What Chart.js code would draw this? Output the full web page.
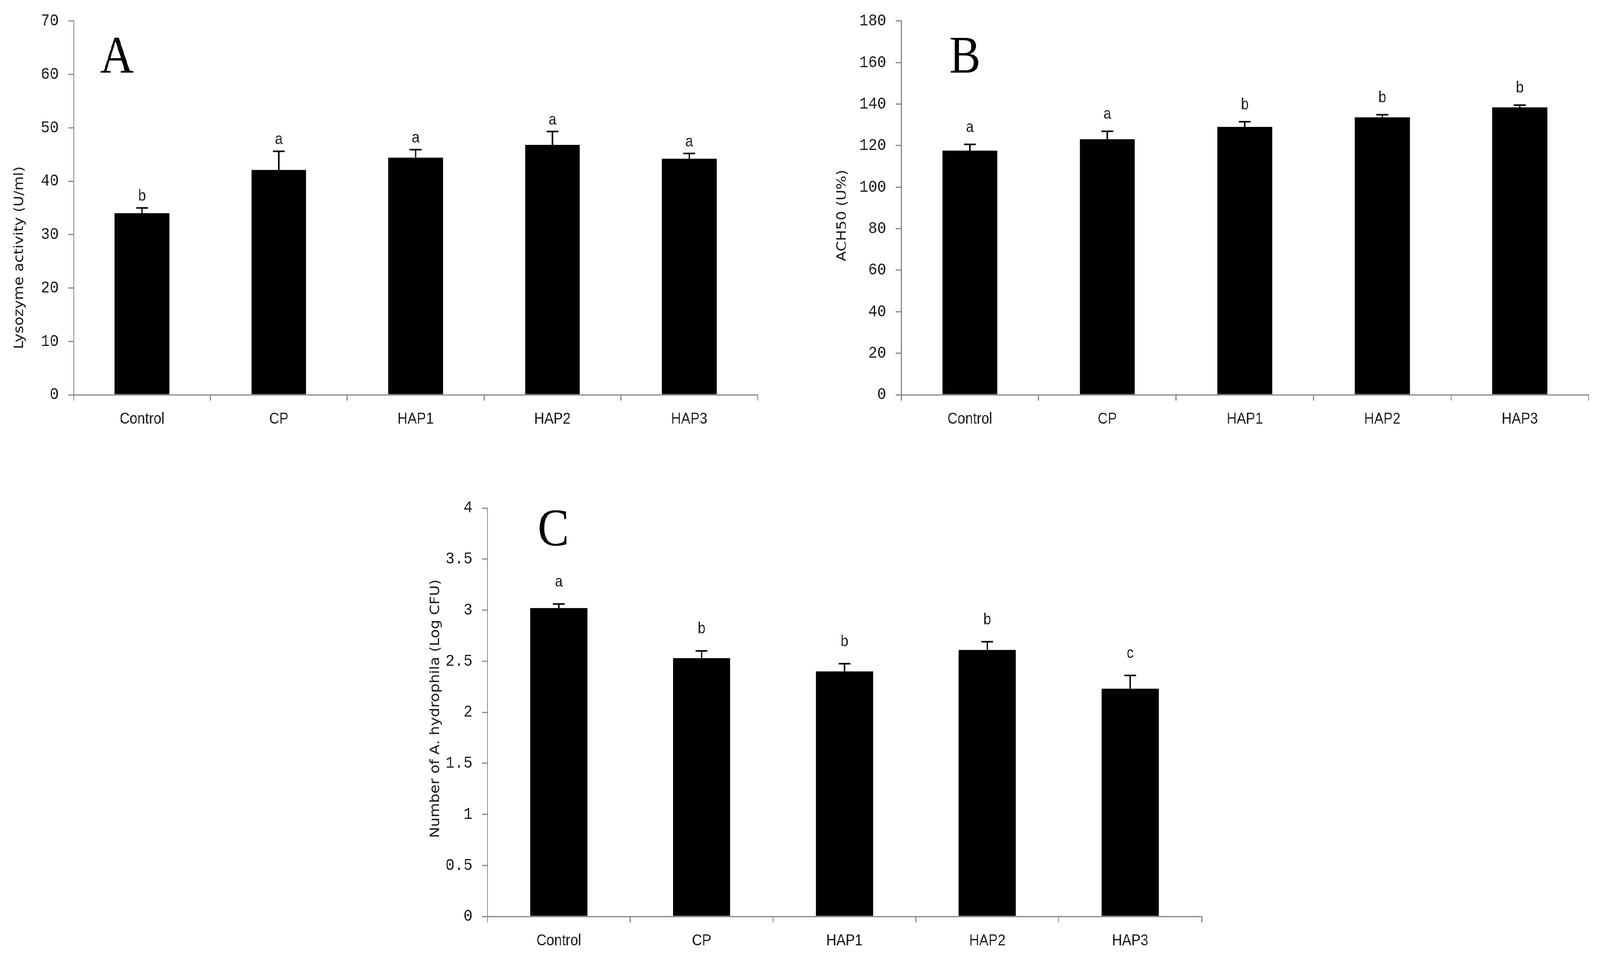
<!DOCTYPE html>
<html>
<head>
<meta charset="utf-8">
<script src="https://cdn.jsdelivr.net/npm/chart.js@4.4.1/dist/chart.umd.min.js"></script>
<style>
  html, body { margin: 0; padding: 0; background: #fff; overflow: hidden; }
  #page { width: 4606px; height: 2456px; position: absolute; left: 0; top: 0; transform-origin: 0 0; }
  canvas { position: absolute; }
</style>
</head>
<body>
<div id="page">
  <canvas id="chartA" width="2300" height="1150" style="left:0px;top:0px;width:2300px;height:1150px"></canvas>
  <canvas id="chartB" width="2306" height="1150" style="left:2300px;top:0px;width:2306px;height:1150px"></canvas>
  <canvas id="chartC" width="2450" height="1256" style="left:1100px;top:1200px;width:2450px;height:1256px"></canvas>
</div>
<script>
// Groups on the x axis (same for the three panels)
const groups = ['Control', 'CP', 'HAP1', 'HAP2', 'HAP3'];

// Panel A - lysozyme activity
const lysozymeValues = [34.0, 42.1, 44.4, 46.8, 44.2];
const lysozymeErrors = [1.0, 3.5, 1.5, 2.5, 1.0];
const lysozymeLetters = ['b', 'a', 'a', 'a', 'a'];
const lysozymeTicks = [0, 10, 20, 30, 40, 50, 60, 70];

// Panel B - ACH50
const ach50Values = [117.6, 123.1, 129.0, 133.6, 138.4];
const ach50Errors = [3.0, 3.8, 2.5, 1.3, 1.1];
const ach50Letters = ['a', 'a', 'b', 'b', 'b'];
const ach50Ticks = [0, 20, 40, 60, 80, 100, 120, 140, 160, 180];

// Panel C - A. hydrophila counts
const hydrophilaValues = [3.02, 2.53, 2.40, 2.61, 2.23];
const hydrophilaErrors = [0.04, 0.07, 0.075, 0.08, 0.13];
const hydrophilaLetters = ['a', 'b', 'b', 'b', 'c'];
const hydrophilaTicks = [0, 0.5, 1, 1.5, 2, 2.5, 3, 3.5, 4];

const axisGray = '#878787';
const textColor = '#1a1a1a';

// The window is narrower than 4606, so stretch the 4606x2456 layout to fill it
const scaleX = (window.innerWidth || 4606) / 4606;
const scaleY = (window.innerHeight || 2456) / 2456;
document.getElementById('page').style.transform = 'scale(' + scaleX + ',' + scaleY + ')';

// Builds one panel; area is the plot box inside the canvas
function buildPanel(canvasId, p) {
    const canvas = document.getElementById(canvasId);
    const ctx = canvas.getContext('2d');
    const W = canvas.width;
    const H = canvas.height;

    // Draws error bars (upper half only), significance letters, titles
    const extras = {
        id: 'extras_' + canvasId,
        afterDatasetsDraw(chart) {
            const c = chart.ctx;
            const yScale = chart.scales.y;
            const meta = chart.getDatasetMeta(0);
            c.save();
            c.strokeStyle = '#000';
            c.lineWidth = 4;
            meta.data.forEach((bar, i) => {
                const top = yScale.getPixelForValue(p.values[i] + p.errors[i]);
                c.beginPath();
                c.moveTo(bar.x, bar.y);
                c.lineTo(bar.x, top);
                c.moveTo(bar.x - 17, top);
                c.lineTo(bar.x + 17, top);
                c.stroke();

                c.fillStyle = textColor;
                c.font = '40px "Liberation Sans", Arial, sans-serif';
                c.textAlign = 'center';
                c.textBaseline = 'alphabetic';
                c.fillText(p.letters[i], bar.x, top - p.letterGap);
            });
            c.restore();
        },
        afterDraw(chart) {
            const c = chart.ctx;
            const area = chart.chartArea;
            c.save();
            // panel letter
            c.fillStyle = '#000';
            c.font = '135px "Liberation Serif", "Times New Roman", serif';
            c.textAlign = 'left';
            c.textBaseline = 'alphabetic';
            c.fillText(p.panel, area.left + p.panelDx, area.top + p.panelDy);
            // y axis title
            c.translate(p.titleX, p.titleY);
            c.rotate(-Math.PI / 2);
            c.font = '38px "DejaVu Sans", Verdana, sans-serif';
            c.fillStyle = textColor;
            c.textAlign = 'center';
            c.textBaseline = 'middle';
            c.fillText(p.yTitle, 0, 0);
            c.restore();
        }
    };

    return new Chart(ctx, {
        type: 'bar',
        data: {
            labels: groups,
            datasets: [{
                data: p.values,
                backgroundColor: '#000',
                borderWidth: 0,
                barPercentage: 0.4,
                categoryPercentage: 1.0,
            }],
        },
        options: {
            responsive: false,
            animation: false,
            devicePixelRatio: 1,
            layout: {
                padding: { top: p.area.top, right: W - p.area.right, left: 0, bottom: 0 },
            },
            plugins: {
                legend: { display: false },
                tooltip: { enabled: false },
            },
            scales: {
                x: {
                    afterFit: (s) => { s.height = H - p.area.bottom; },
                    grid: {
                        offset: true,
                        drawOnChartArea: false,
                        drawTicks: true,
                        tickLength: 15,
                        color: axisGray,
                        lineWidth: 3,
                    },
                    border: { display: true, color: axisGray, width: 3 },
                    ticks: {
                        color: textColor,
                        padding: 24,
                        font: { family: '"Liberation Sans", Arial, sans-serif', size: 40 },
                    },
                },
                y: {
                    min: p.ticks[0],
                    max: p.ticks[p.ticks.length - 1],
                    afterFit: (s) => { s.width = p.area.left; },
                    afterBuildTicks: (s) => { s.ticks = p.ticks.map((v) => ({ value: v })); },
                    grid: {
                        drawOnChartArea: false,
                        drawTicks: true,
                        tickLength: 15,
                        color: axisGray,
                        lineWidth: 3,
                    },
                    border: { display: true, color: axisGray, width: 3 },
                    ticks: {
                        color: textColor,
                        padding: 28,
                        callback: (v) => String(v),
                        font: { family: '"Liberation Mono", "Courier New", monospace', size: 43 },
                    },
                },
            },
        },
        plugins: [extras],
    });
}

buildPanel('chartA', {
    values: lysozymeValues, errors: lysozymeErrors, letters: lysozymeLetters, ticks: lysozymeTicks,
    yTitle: 'Lysozyme activity (U/ml)', panel: 'A',
    area: { left: 212, top: 38, right: 2181, bottom: 1011 },
    titleX: 56, titleY: 660, panelDx: 76, panelDy: 132, letterGap: 18,
});

buildPanel('chartB', {
    values: ach50Values, errors: ach50Errors, letters: ach50Letters, ticks: ach50Ticks,
    yTitle: 'ACH50 (U%)', panel: 'B',
    area: { left: 294, top: 38, right: 2273, bottom: 1011 },
    titleX: 125, titleY: 552, panelDx: 139, panelDy: 132, letterGap: 32,
});

buildPanel('chartC', {
    values: hydrophilaValues, errors: hydrophilaErrors, letters: hydrophilaLetters, ticks: hydrophilaTicks,
    yTitle: 'Number of A. hydrophila (Log CFU)', panel: 'C',
    area: { left: 303, top: 101, right: 2359, bottom: 1147 },
    titleX: 154, titleY: 615, panelDx: 145, panelDy: 96, letterGap: 45,
});
</script>
</body>
</html>
